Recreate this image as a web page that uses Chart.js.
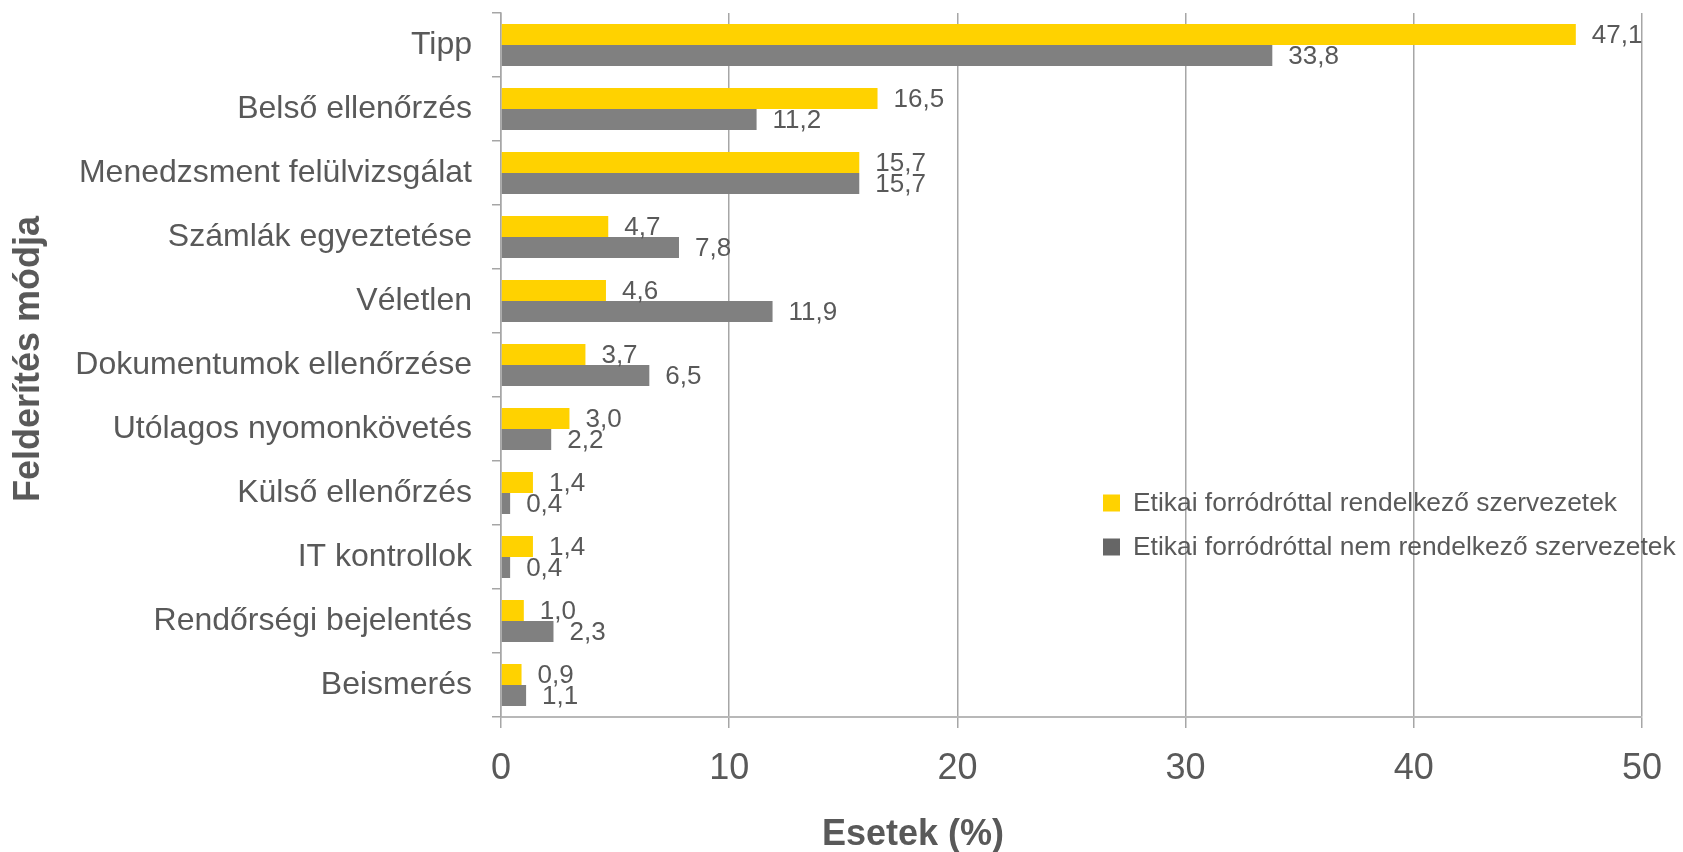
<!DOCTYPE html>
<html lang="hu">
<head>
<meta charset="utf-8">
<title>Felderítés módja</title>
<script src="https://cdn.jsdelivr.net/npm/chart.js@4.4.1/dist/chart.umd.min.js"></script>
<style>
  html, body { margin: 0; padding: 0; background: #ffffff; }
  #wrap { width: 1683px; height: 852px; position: relative; }
  canvas { display: block; }
</style>
</head>
<body>
<div id="wrap"><canvas id="chart" width="1683" height="852"></canvas></div>
<script>
// Detection methods (top to bottom)
const categories = [
  'Tipp',
  'Belső ellenőrzés',
  'Menedzsment felülvizsgálat',
  'Számlák egyeztetése',
  'Véletlen',
  'Dokumentumok ellenőrzése',
  'Utólagos nyomonkövetés',
  'Külső ellenőrzés',
  'IT kontrollok',
  'Rendőrségi bejelentés',
  'Beismerés'
];

// Share of cases (%) by organisation type
const withHotline    = [47.1, 16.5, 15.7, 4.7, 4.6, 3.7, 3.0, 1.4, 1.4, 1.0, 0.9];
const withoutHotline = [33.8, 11.2, 15.7, 7.8, 11.9, 6.5, 2.2, 0.4, 0.4, 2.3, 1.1];

const seriesNames = [
  'Etikai forródróttal rendelkező szervezetek',
  'Etikai forródróttal nem rendelkező szervezetek'
];

const xTickValues = [0, 10, 20, 30, 40, 50];

const xTitle = 'Esetek (%)';
const yTitle = 'Felderítés módja';

const FONT = '"Liberation Sans", Arial, Helvetica, sans-serif';
const TEXT = '#595959';
const GRID = '#a6a6a6';
const YELLOW = '#ffd200';
const GREY = '#808080';

const fmt = v => v.toFixed(1).replace('.', ',');

// Value labels just right of each bar end
const valueLabels = {
  id: 'valueLabels',
  afterDatasetsDraw(chart) {
    const ctx = chart.ctx;
    ctx.save();
    ctx.font = '26px ' + FONT;
    ctx.fillStyle = TEXT;
    ctx.textAlign = 'left';
    ctx.textBaseline = 'middle';
    chart.data.datasets.forEach((ds, di) => {
      const meta = chart.getDatasetMeta(di);
      meta.data.forEach((bar, i) => {
        ctx.fillText(fmt(ds.data[i]), bar.x + 16, bar.y + 1);
      });
    });
    ctx.restore();
  }
};

// Axis titles
const axisTitles = {
  id: 'axisTitles',
  afterDraw(chart) {
    const ctx = chart.ctx;
    const area = chart.chartArea;
    ctx.save();
    ctx.fillStyle = TEXT;
    ctx.font = 'bold 36px ' + FONT;
    ctx.textAlign = 'center';
    ctx.textBaseline = 'alphabetic';
    ctx.fillText(xTitle, chart.width * 0.5425, 845);
    ctx.translate(39, (area.top + area.bottom) / 2 - 6);
    ctx.rotate(-Math.PI / 2);
    ctx.fillText(yTitle, 0, 0);
    ctx.restore();
  }
};

// Legend inside the plot, drawn without a background
const innerLegend = {
  id: 'innerLegend',
  afterDraw(chart) {
    const ctx = chart.ctx;
    const swatches = [YELLOW, '#666666'];
    const x0 = 1103, y0 = 503, step = 44, box = 17;
    ctx.save();
    ctx.font = '26.4px ' + FONT;
    ctx.textAlign = 'left';
    ctx.textBaseline = 'middle';
    chart.data.datasets.forEach((ds, i) => {
      const cy = y0 + i * step;
      ctx.fillStyle = swatches[i];
      ctx.fillRect(x0, cy - box / 2, box, box);
      ctx.fillStyle = TEXT;
      ctx.fillText(ds.label, x0 + 30, cy + 1);
    });
    ctx.restore();
  }
};

new Chart(document.getElementById('chart'), {
  type: 'bar',
  data: {
    labels: categories,
    datasets: [
      {
        label: seriesNames[0],
        data: withHotline,
        backgroundColor: YELLOW,
        categoryPercentage: 0.656,
        barPercentage: 1.0
      },
      {
        label: seriesNames[1],
        data: withoutHotline,
        backgroundColor: GREY,
        categoryPercentage: 0.656,
        barPercentage: 1.0
      }
    ]
  },
  options: {
    indexAxis: 'y',
    responsive: false,
    animation: false,
    devicePixelRatio: 1,
    layout: { padding: { left: 0, right: 41, top: 13, bottom: 0 } },
    plugins: {
      legend: { display: false },
      tooltip: { enabled: false }
    },
    scales: {
      x: {
        type: 'linear',
        position: 'bottom',
        min: 0,
        max: 50,
        afterBuildTicks(scale) {
          scale.ticks = xTickValues.map(v => ({ value: v }));
        },
        afterFit(scale) {
          scale.height = 135;
          scale.paddingLeft = 0;
          scale.paddingRight = 0;
        },
        grid: {
          color: GRID,
          lineWidth: 1.5,
          drawTicks: true,
          tickLength: 11,
          tickColor: GRID
        },
        border: { display: true, color: '#b8b8b8', width: 2 },
        ticks: {
          color: TEXT,
          font: { family: FONT, size: 36 },
          padding: 19,
          maxRotation: 0,
          callback: v => String(v)
        }
      },
      y: {
        type: 'category',
        position: 'left',
        offset: true,
        afterFit(scale) {
          scale.width = 501;
          scale.paddingTop = 0;
          scale.paddingBottom = 0;
        },
        grid: {
          offset: true,
          drawOnChartArea: false,
          drawTicks: true,
          tickLength: 9,
          color: GRID,
          lineWidth: 1.5
        },
        border: { display: true, color: GRID, width: 1.5 },
        ticks: {
          color: TEXT,
          font: { family: FONT, size: 32 },
          padding: 20,
          autoSkip: false
        }
      }
    }
  },
  plugins: [valueLabels, axisTitles, innerLegend]
});
</script>
</body>
</html>
